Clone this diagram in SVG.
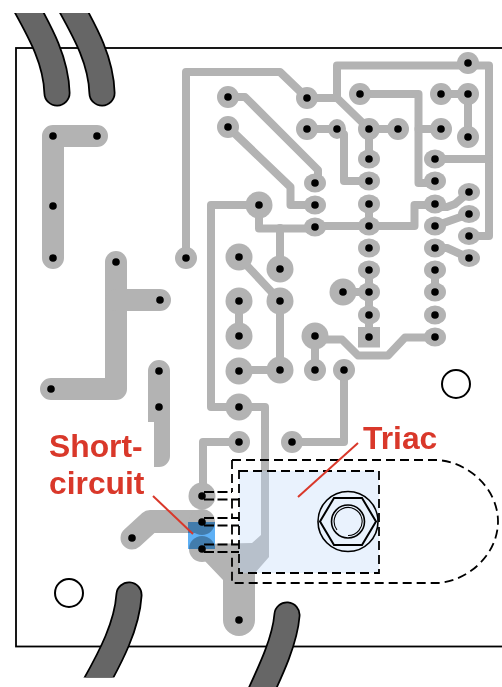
<svg xmlns="http://www.w3.org/2000/svg" width="502" height="687" viewBox="0 0 502 687">
<style>
.t{fill:none;stroke:#b3b3b3;stroke-width:8;stroke-linejoin:round;stroke-linecap:round}
.z{fill:none;stroke:#b3b3b3;stroke-width:22;stroke-linejoin:round;stroke-linecap:round}
.p{fill:#b3b3b3}
.h{fill:#000}
.wo{fill:none;stroke:#000;stroke-width:27;stroke-linecap:round}
.wi{fill:none;stroke:#666;stroke-width:23.5;stroke-linecap:round}
.d{fill:none;stroke:#000;stroke-width:1.8;stroke-dasharray:9 5}
.e{fill:none;stroke:#000;stroke-width:1.8;stroke-dasharray:10 3.500}
.l{font-family:"Liberation Sans",Arial,sans-serif;font-weight:700;font-size:31.800px;fill:#d9382a}
.r{stroke:#d9382a;stroke-width:2;fill:none}
.b{fill:none;stroke:#000;stroke-width:1.6}
</style>
<defs>
<clipPath id="ct"><rect x="0" y="13" width="502" height="200"/></clipPath>
<clipPath id="cb"><rect x="0" y="500" width="502" height="177.500"/></clipPath>
</defs>
<rect id="board" x="16" y="48" width="500" height="598.500" fill="#fff" stroke="#000" stroke-width="1.800"/>
<g id="copper">
<path class="z" d="M97 136H53V258"/>
<path class="z" d="M116 262V389H51"/>
<path class="z" d="M116 300H160"/>
<path class="p" d="M148 371a11 11 0 0 1 22 0V456a11 11 0 0 1-11 11h-5V422h-6Z"/>
<path class="z" style="stroke-width:23" d="M132 538L150 521.500H202"/>
<path class="p" d="M202 544L252 543 261 535V407H269V557L255 573V620A16 16 0 0 1 223 620V580L202 558Z"/>
<g id="connectors">
<path class="t" d="M186 258V72H280L307 98H337L369 129H398"/>
<path class="t" d="M337 98V65.500H489V236H469"/>
<path class="t" d="M435 159H489"/>
<path class="t" d="M369 129V159"/>
<path class="t" d="M307 129H337L344 134V181H369"/>
<path class="t" d="M360 94H418.500V183H435"/>
<path class="t" d="M418.500 129H441"/>
<path class="t" d="M441 94H468V137"/>
<path class="t" d="M228 97H245L318 170V183"/>
<path class="t" d="M228 127L290.500 187V205H315"/>
<path class="t" d="M259 205V228.500H315L322 226H414.500V205H435"/>
<path class="t" d="M280 228V269"/>
<path class="t" d="M239 257L280 301V370H239"/>
<path class="t" d="M239 301V336"/>
<path class="t" d="M315 370V339.500H342L358 355.500H388L405 337.500H435"/>
<path class="t" d="M344 370V442H292"/>
<path class="t" d="M369 204V226"/>
<path class="t" d="M369 270V337"/>
<path class="t" d="M343 292H369"/>
<path class="t" d="M435 270V292"/>
<path class="t" d="M469 192L455 204 447 207H435"/>
<path class="t" d="M435 226L469 214"/>
<path class="t" d="M435 248H447L469 258"/>
<path class="t" d="M259 205H211V407H265V425"/>
<path class="t" d="M203 496V442H239"/>
</g>
<g id="pads" class="p">
<circle cx="202" cy="496" r="13.500"/><circle cx="202" cy="522" r="13"/><circle cx="202" cy="549" r="13"/>
<circle cx="259" cy="205" r="13.500"/><circle cx="239" cy="257" r="13.500"/><circle cx="280" cy="269" r="13.500"/><circle cx="239" cy="301" r="13.500"/><circle cx="280" cy="301" r="13.500"/><circle cx="239" cy="336" r="13.500"/><circle cx="239" cy="371" r="13.500"/><circle cx="280" cy="370" r="13.500"/><circle cx="239" cy="407" r="13.500"/><circle cx="343" cy="292" r="13.500"/><circle cx="315" cy="336" r="13.500"/>
<circle cx="186" cy="258" r="11"/><circle cx="307" cy="98" r="11"/><circle cx="307" cy="129" r="11"/><circle cx="360" cy="94" r="11"/><circle cx="441" cy="94" r="11"/><circle cx="468" cy="94" r="11"/><circle cx="441" cy="129" r="11"/><circle cx="369" cy="129" r="11"/><circle cx="398" cy="129" r="11"/><circle cx="468" cy="137" r="11"/><circle cx="228" cy="97" r="11"/><circle cx="228" cy="127" r="11"/><circle cx="468" cy="63" r="11"/><circle cx="315" cy="370" r="11"/><circle cx="344" cy="370" r="11"/><circle cx="239" cy="442" r="11"/><circle cx="292" cy="442" r="11"/>
<ellipse cx="337" cy="129" rx="9" ry="10"/>
<ellipse cx="315" cy="183" rx="11" ry="9.500"/><ellipse cx="315" cy="205" rx="11" ry="9.500"/><ellipse cx="315" cy="227" rx="11" ry="9.500"/>
<ellipse cx="369" cy="159" rx="11" ry="9.500"/><ellipse cx="369" cy="181" rx="11" ry="9.500"/><ellipse cx="369" cy="204" rx="11" ry="9.500"/><ellipse cx="369" cy="226" rx="11" ry="9.500"/><ellipse cx="369" cy="248" rx="11" ry="9.500"/><ellipse cx="369" cy="270" rx="11" ry="9.500"/><ellipse cx="369" cy="292" rx="11" ry="9.500"/><ellipse cx="369" cy="315" rx="11" ry="9.500"/>
<rect x="358" y="327" width="22" height="20.500"/>
<ellipse cx="435" cy="159" rx="11" ry="9.500"/><ellipse cx="435" cy="181" rx="11" ry="9.500"/><ellipse cx="435" cy="204" rx="11" ry="9.500"/><ellipse cx="435" cy="226" rx="11" ry="9.500"/><ellipse cx="435" cy="248" rx="11" ry="9.500"/><ellipse cx="435" cy="270" rx="11" ry="9.500"/><ellipse cx="435" cy="292" rx="11" ry="9.500"/><ellipse cx="435" cy="315" rx="11" ry="9.500"/><ellipse cx="435" cy="337" rx="11" ry="9.500"/>
<ellipse cx="469" cy="192" rx="11" ry="9"/><ellipse cx="469" cy="214" rx="11" ry="9"/><ellipse cx="469" cy="236" rx="11" ry="9"/><ellipse cx="469" cy="258" rx="11" ry="9"/>
</g>
</g>
<g id="triac">
<rect x="239" y="471" width="140" height="102" fill="#bfd9fa" fill-opacity=".34"/>
<path class="d" d="M239 471H379V573H239Z"/>
<path class="d" d="M232 460H437C470 462 498 490 498 521.500C498 553 470 581 437 583H232V552"/>
<path class="d" d="M232 460V492"/>
<path class="e" d="M204 492H232"/>
<path class="e" d="M204 499.500H239"/>
<path class="d" d="M232 499.500V518"/>
<path class="e" d="M204 518H239"/>
<path class="e" d="M204 525.500H239"/>
<path class="d" d="M232 525.500V544.500"/>
<path class="e" d="M204 544.500H239"/>
<path class="e" d="M204 552H239"/>
<circle class="b" cx="348" cy="521.500" r="30"/>
<path class="b" style="stroke-width:2" d="M320 521.500L334 498H362L376 521.500L362 545H334Z"/>
<circle class="b" cx="348" cy="521.500" r="16.500"/>
<path class="b" style="stroke-width:1.100" d="M348 535.500A14 14 0 1 0 337 530"/>
</g>
<rect id="short" x="188" y="522" width="27" height="27" fill="#5eb0f5" style="mix-blend-mode:multiply"/>
<g id="holes" class="h">
<circle cx="53" cy="136" r="3.800"/><circle cx="97" cy="136" r="3.800"/><circle cx="53" cy="206" r="3.800"/><circle cx="53" cy="258" r="3.800"/><circle cx="116" cy="262" r="3.800"/><circle cx="160" cy="300" r="3.800"/><circle cx="51" cy="389" r="3.800"/><circle cx="159" cy="371" r="3.800"/><circle cx="159" cy="407" r="3.800"/><circle cx="132" cy="538" r="3.800"/><circle cx="202" cy="496" r="3.800"/><circle cx="202" cy="522" r="3.800"/><circle cx="202" cy="549" r="3.800"/><circle cx="239" cy="620" r="3.800"/>
<circle cx="186" cy="258" r="3.800"/><circle cx="307" cy="98" r="3.800"/><circle cx="307" cy="129" r="3.800"/><circle cx="337" cy="129" r="3.800"/><circle cx="360" cy="94" r="3.800"/><circle cx="441" cy="94" r="3.800"/><circle cx="468" cy="94" r="3.800"/><circle cx="441" cy="129" r="3.800"/><circle cx="369" cy="129" r="3.800"/><circle cx="398" cy="129" r="3.800"/><circle cx="468" cy="137" r="3.800"/><circle cx="228" cy="97" r="3.800"/><circle cx="228" cy="127" r="3.800"/><circle cx="468" cy="63" r="3.800"/>
<circle cx="259" cy="205" r="3.800"/><circle cx="239" cy="257" r="3.800"/><circle cx="280" cy="269" r="3.800"/><circle cx="239" cy="301" r="3.800"/><circle cx="280" cy="301" r="3.800"/><circle cx="239" cy="336" r="3.800"/><circle cx="239" cy="371" r="3.800"/><circle cx="280" cy="370" r="3.800"/><circle cx="239" cy="407" r="3.800"/><circle cx="343" cy="292" r="3.800"/><circle cx="315" cy="336" r="3.800"/><circle cx="315" cy="370" r="3.800"/><circle cx="344" cy="370" r="3.800"/><circle cx="239" cy="442" r="3.800"/><circle cx="292" cy="442" r="3.800"/>
<circle cx="315" cy="183" r="3.800"/><circle cx="315" cy="205" r="3.800"/><circle cx="315" cy="227" r="3.800"/>
<circle cx="369" cy="159" r="3.800"/><circle cx="369" cy="181" r="3.800"/><circle cx="369" cy="204" r="3.800"/><circle cx="369" cy="226" r="3.800"/><circle cx="369" cy="248" r="3.800"/><circle cx="369" cy="270" r="3.800"/><circle cx="369" cy="292" r="3.800"/><circle cx="369" cy="315" r="3.800"/><circle cx="369" cy="337" r="3.800"/>
<circle cx="435" cy="159" r="3.800"/><circle cx="435" cy="181" r="3.800"/><circle cx="435" cy="204" r="3.800"/><circle cx="435" cy="226" r="3.800"/><circle cx="435" cy="248" r="3.800"/><circle cx="435" cy="270" r="3.800"/><circle cx="435" cy="292" r="3.800"/><circle cx="435" cy="315" r="3.800"/><circle cx="435" cy="337" r="3.800"/>
<circle cx="469" cy="192" r="3.800"/><circle cx="469" cy="214" r="3.800"/><circle cx="469" cy="236" r="3.800"/><circle cx="469" cy="258" r="3.800"/>
</g>
<g id="mounting" fill="#fff" stroke="#000" stroke-width="2">
<circle cx="456" cy="384" r="14"/>
<circle cx="69" cy="593" r="14"/>
</g>
<g id="wires">
<g clip-path="url(#ct)">
<path class="wo" d="M24 3C40 32 56 60 57 93"/><path class="wi" d="M24 3C40 32 56 60 57 93"/>
<path class="wo" d="M69 3C85 32 101 60 102 93"/><path class="wi" d="M69 3C85 32 101 60 102 93"/>
</g>
<g clip-path="url(#cb)">
<path class="wo" d="M129 595C127 625 112 655 92 690"/><path class="wi" d="M129 595C127 625 112 655 92 690"/>
</g>
<path class="wo" d="M287 615C285 640 272 668 258 698"/><path class="wi" d="M287 615C285 640 272 668 258 698"/>
</g>
<g id="labels">
<path class="r" d="M153 496L193 534"/>
<path class="r" d="M358 443L298 497"/>
<text class="l" x="49" y="457">Short-</text>
<text class="l" x="49" y="494">circuit</text>
<text class="l" x="363" y="449">Triac</text>
</g>
</svg>
